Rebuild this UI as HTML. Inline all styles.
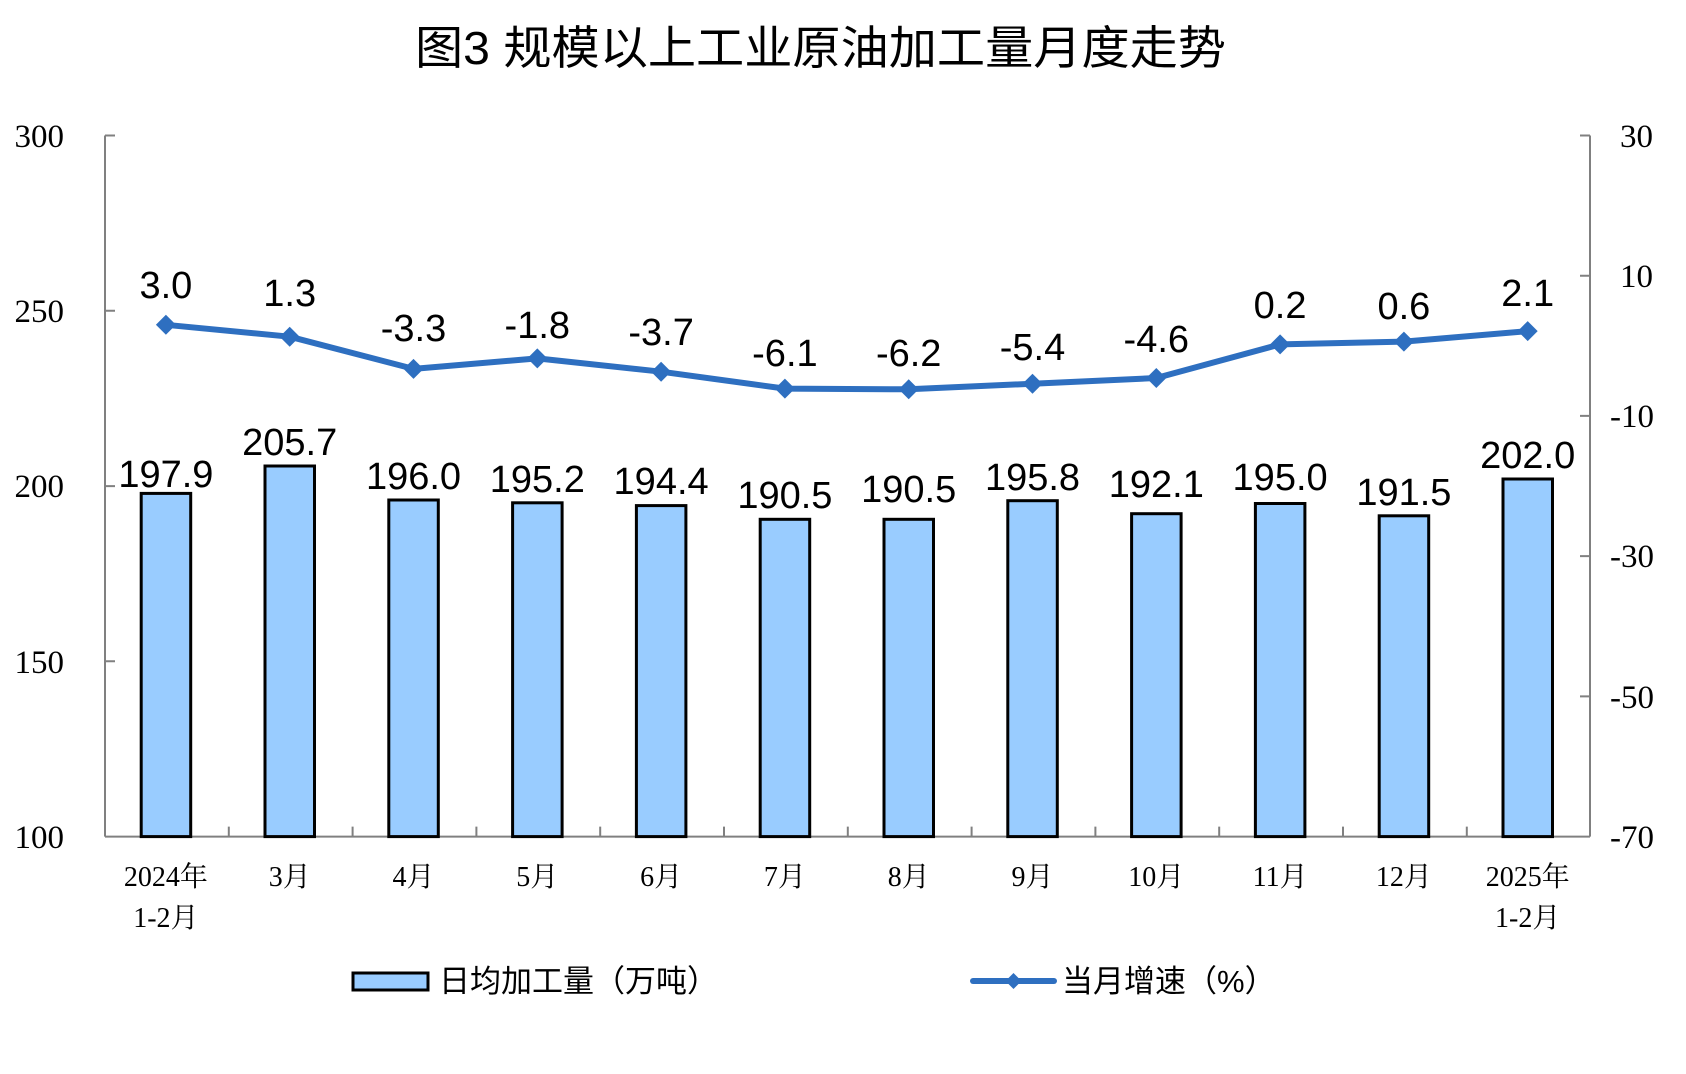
<!DOCTYPE html>
<html><head><meta charset="utf-8"><style>
html,body{margin:0;padding:0;background:#fff;}
svg{display:block;}
.t{font-family:"Liberation Serif","Noto Serif CJK SC",serif;font-size:33px;fill:#000;}
.v{font-family:"Liberation Sans",sans-serif;font-size:38px;fill:#000;text-anchor:middle;}
.c{font-family:"Liberation Serif","Noto Serif CJK SC",serif;font-size:28px;fill:#000;text-anchor:middle;}
.l{font-family:"Liberation Sans","Noto Sans CJK SC",sans-serif;font-size:31px;fill:#000;}
</style></head><body>
<svg width="1686" height="1074" viewBox="0 0 1686 1074" xmlns="http://www.w3.org/2000/svg">
<text x="415" y="64" textLength="811" lengthAdjust="spacingAndGlyphs" style="font-family:'Liberation Sans','Noto Sans CJK SC',sans-serif;font-size:46px;fill:#000">图3 规模以上工业原油加工量月度走势</text>
<!-- axes -->
<g stroke="#808080" stroke-width="2" fill="none">
<line x1="105" y1="135.5" x2="105" y2="836.6"/>
<line x1="1590" y1="135.5" x2="1590" y2="836.6"/>
<line x1="105" y1="836.6" x2="1590" y2="836.6"/>
<path d="M105 135.5h10M105 310.8h10M105 486.1h10M105 661.3h10"/>
<path d="M1590 135.5h-10M1590 275.7h-10M1590 415.9h-10M1590 556.1h-10M1590 696.4h-10"/>
<path d="M228.8 836.6v-10M352.6 836.6v-10M476.4 836.6v-10M600.2 836.6v-10M724 836.6v-10M847.8 836.6v-10M971.6 836.6v-10M1095.4 836.6v-10M1219.2 836.6v-10M1343 836.6v-10M1466.8 836.6v-10"/>
</g>
<g class="t" text-anchor="end">
<text x="64" y="147">300</text><text x="64" y="322">250</text><text x="64" y="497">200</text><text x="64" y="673">150</text><text x="64" y="848">100</text>
</g>
<g class="t">
<text x="1620" y="147">30</text><text x="1620" y="287">10</text><text x="1610" y="427">-10</text><text x="1610" y="567">-30</text><text x="1610" y="708">-50</text><text x="1610" y="848">-70</text>
</g>
<!-- bars -->
<g fill="#99ccff" stroke="#000" stroke-width="3">
<rect x="141.2" y="493.4" width="49.5" height="343.2"/>
<rect x="265" y="466" width="49.5" height="370.6"/>
<rect x="388.8" y="500" width="49.5" height="336.6"/>
<rect x="512.6" y="502.8" width="49.5" height="333.8"/>
<rect x="636.4" y="505.6" width="49.5" height="331"/>
<rect x="760.2" y="519.3" width="49.5" height="317.3"/>
<rect x="884" y="519.3" width="49.5" height="317.3"/>
<rect x="1007.8" y="500.7" width="49.5" height="335.9"/>
<rect x="1131.6" y="513.7" width="49.5" height="322.9"/>
<rect x="1255.4" y="503.5" width="49.5" height="333.1"/>
<rect x="1379.2" y="515.8" width="49.5" height="320.8"/>
<rect x="1503" y="479" width="49.5" height="357.6"/>
</g>
<g class="v">
<text x="165.9" y="487">197.9</text><text x="289.7" y="455">205.7</text><text x="413.5" y="489">196.0</text><text x="537.3" y="492">195.2</text><text x="661.1" y="494">194.4</text><text x="784.9" y="508">190.5</text><text x="908.7" y="502">190.5</text><text x="1032.5" y="490">195.8</text><text x="1156.3" y="497">192.1</text><text x="1280.1" y="490">195.0</text><text x="1403.9" y="505">191.5</text><text x="1527.7" y="468">202.0</text>
</g>
<!-- line -->
<polyline fill="none" stroke="#2e6fc0" stroke-width="6" stroke-linejoin="round" points="165.9,324.8 289.7,336.7 413.5,368.9 537.3,358.4 661.1,371.7 784.9,388.6 908.7,389.3 1032.5,383.7 1156.3,378 1280.1,344.4 1403.9,341.6 1527.7,331.1"/>
<g fill="#2e6fc0">
<path d="M165.9 314.8l10 10-10 10-10-10z"/><path d="M289.7 326.7l10 10-10 10-10-10z"/><path d="M413.5 358.9l10 10-10 10-10-10z"/><path d="M537.3 348.4l10 10-10 10-10-10z"/><path d="M661.1 361.7l10 10-10 10-10-10z"/><path d="M784.9 378.6l10 10-10 10-10-10z"/><path d="M908.7 379.3l10 10-10 10-10-10z"/><path d="M1032.5 373.7l10 10-10 10-10-10z"/><path d="M1156.3 368l10 10-10 10-10-10z"/><path d="M1280.1 334.4l10 10-10 10-10-10z"/><path d="M1403.9 331.6l10 10-10 10-10-10z"/><path d="M1527.7 321.1l10 10-10 10-10-10z"/>
</g>
<g class="v">
<text x="165.9" y="298">3.0</text><text x="289.7" y="306">1.3</text><text x="413.5" y="341">-3.3</text><text x="537.3" y="338">-1.8</text><text x="661.1" y="345">-3.7</text><text x="784.9" y="366">-6.1</text><text x="908.7" y="366">-6.2</text><text x="1032.5" y="360">-5.4</text><text x="1156.3" y="352">-4.6</text><text x="1280.1" y="318">0.2</text><text x="1403.9" y="319">0.6</text><text x="1527.7" y="306">2.1</text>
</g>
<!-- categories -->
<g class="c">
<text x="165.9" y="886">2024年</text><text x="165.9" y="927">1-2月</text>
<text x="289.7" y="886">3月</text><text x="413.5" y="886">4月</text><text x="537.3" y="886">5月</text><text x="661.1" y="886">6月</text><text x="784.9" y="886">7月</text><text x="908.7" y="886">8月</text><text x="1032.5" y="886">9月</text><text x="1156.3" y="886">10月</text><text x="1280.1" y="886">11月</text><text x="1403.9" y="886">12月</text>
<text x="1527.7" y="886">2025年</text><text x="1527.7" y="927">1-2月</text>
</g>
<!-- legend -->
<rect x="353" y="973" width="75" height="17" fill="#99ccff" stroke="#000" stroke-width="3"/>
<text class="l" x="439" y="992">日均加工量（万吨）</text>
<line x1="973" y1="981" x2="1054" y2="981" stroke="#2e6fc0" stroke-width="6" stroke-linecap="round"/>
<path d="M1013.5 973l8 8-8 8-8-8z" fill="#2e6fc0"/>
<text class="l" x="1062" y="992">当月增速（%）</text>
</svg>
</body></html>
